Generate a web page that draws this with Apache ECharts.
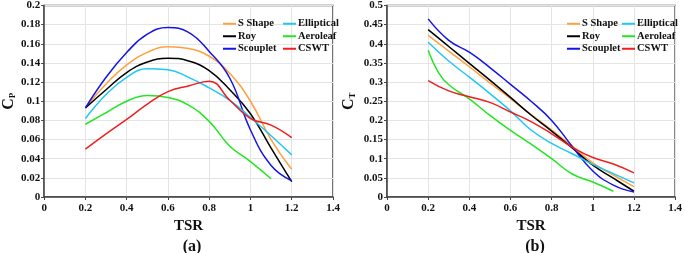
<!DOCTYPE html>
<html><head><meta charset="utf-8">
<script src="https://cdn.jsdelivr.net/npm/echarts@6/dist/echarts.min.js"></script>
<style>html,body{margin:0;padding:0;background:#fff}#c{width:685px;height:253px}</style>
</head><body><div id="c"></div>
<script>
// ---- data ----
const xTicks = [0, 0.2, 0.4, 0.6, 0.8, 1, 1.2, 1.4];
const tsrFull = [0.2, 0.3, 0.4, 0.5, 0.6, 0.7, 0.8, 0.9, 1.0, 1.1, 1.2];
const tsrAeroCp = [0.2, 0.3, 0.4, 0.5, 0.6, 0.7, 0.8, 0.9, 1.0, 1.1];
const tsrAeroCt = [0.2, 0.25, 0.3, 0.4, 0.5, 0.6, 0.7, 0.8, 0.9, 1.0, 1.1];

// Cp (a)
const cpSShape     = [0.093, 0.118, 0.138, 0.151, 0.157, 0.155, 0.147, 0.129, 0.100, 0.060, 0.029];
const cpRoy        = [0.093, 0.112, 0.130, 0.141, 0.145, 0.142, 0.132, 0.112, 0.087, 0.051, 0.016];
const cpScouplet   = [0.093, 0.125, 0.151, 0.170, 0.177, 0.172, 0.152, 0.124, 0.070, 0.033, 0.017];
const cpElliptical = [0.082, 0.107, 0.125, 0.134, 0.133, 0.125, 0.114, 0.101, 0.083, 0.064, 0.044];
const cpAeroleaf   = [0.076, 0.088, 0.100, 0.106, 0.104, 0.096, 0.079, 0.053, 0.037, 0.019];
const cpCSWT       = [0.050, 0.066, 0.081, 0.097, 0.110, 0.116, 0.121, 0.101, 0.082, 0.075, 0.062];

// Ct (b)
const ctSShape     = [0.422, 0.381, 0.340, 0.298, 0.257, 0.215, 0.175, 0.133, 0.089, 0.057, 0.027];
const ctRoy        = [0.437, 0.393, 0.349, 0.305, 0.260, 0.214, 0.172, 0.128, 0.083, 0.049, 0.015];
const ctScouplet   = [0.465, 0.409, 0.378, 0.338, 0.294, 0.250, 0.200, 0.132, 0.068, 0.031, 0.013];
const ctElliptical = [0.404, 0.355, 0.313, 0.270, 0.225, 0.175, 0.140, 0.113, 0.085, 0.061, 0.037];
const ctAeroleaf   = [0.383, 0.325, 0.293, 0.256, 0.213, 0.174, 0.138, 0.100, 0.060, 0.039, 0.015];
const ctCSWT       = [0.304, 0.277, 0.262, 0.247, 0.222, 0.197, 0.165, 0.130, 0.103, 0.086, 0.063];

const names = ['S Shape', 'Roy', 'Scouplet', 'Elliptical', 'Aeroleaf', 'CSWT'];
const colors = {'S Shape':'#FFA040','Roy':'#000000','Scouplet':'#1414E6','Elliptical':'#1EC8F5','Aeroleaf':'#22E622','CSWT':'#F01E1E'};

function pairs(xs, ys){ return ys.map((y,i)=>[xs[i], y]); }

const cpSeries = {
  'S Shape': pairs(tsrFull, cpSShape), 'Roy': pairs(tsrFull, cpRoy), 'Scouplet': pairs(tsrFull, cpScouplet),
  'Elliptical': pairs(tsrFull, cpElliptical), 'Aeroleaf': pairs(tsrAeroCp, cpAeroleaf), 'CSWT': pairs(tsrFull, cpCSWT)
};
const ctSeries = {
  'S Shape': pairs(tsrFull, ctSShape), 'Roy': pairs(tsrFull, ctRoy), 'Scouplet': pairs(tsrFull, ctScouplet),
  'Elliptical': pairs(tsrFull, ctElliptical), 'Aeroleaf': pairs(tsrAeroCt, ctAeroleaf), 'CSWT': pairs(tsrFull, ctCSWT)
};

const FONT = '"Liberation Serif","Times New Roman",serif';
const chart = echarts.init(document.getElementById('c'));

function xAx(gi){
  return {gridIndex: gi, type:'value', min:0, max:1.4, interval:0.2,
    name:'TSR', nameLocation:'middle', nameGap:19,
    nameTextStyle:{fontFamily:FONT, fontWeight:'bold', fontSize:15, color:'#111'},
    axisLine:{show:true, lineStyle:{color:'#444', width:1.5}},
    axisTick:{show:true, length:3, lineStyle:{color:'#444'}},
    axisLabel:{fontFamily:FONT, fontWeight:'bold', fontSize:11, color:'#111', margin:6},
    splitLine:{show:true, lineStyle:{color:'#e4e4e4', width:1}}};
}
function yAx(gi, max, iv, sub, gap){
  return {gridIndex: gi, type:'value', min:0, max:max, interval:iv,
    name:'{c|C}{s|' + sub + '}', nameLocation:'middle', nameGap:gap, nameRotate:90,
    nameTextStyle:{rich:{
      c:{fontFamily:FONT, fontWeight:'bold', fontSize:16, color:'#111'},
      s:{fontFamily:FONT, fontWeight:'bold', fontSize:9, color:'#111', verticalAlign:'bottom', padding:[6,0,0,0]}}},
    axisLine:{show:true, lineStyle:{color:'#444', width:1.5}},
    axisTick:{show:true, length:3, lineStyle:{color:'#444'}},
    axisLabel:{fontFamily:FONT, fontWeight:'bold', fontSize:11, color:'#111', margin:4},
    splitLine:{show:true, lineStyle:{color:'#e4e4e4', width:1}}};
}
function legend(left, data){
  return {left:left, top:13, orient:'vertical', icon:'rect', itemWidth:13, itemHeight:2, itemGap:1,
    data:data, textStyle:{fontFamily:FONT, fontWeight:'bold', fontSize:10.5, color:'#111', lineHeight:11.5, padding:[0,0,0,-3]}};
}

const series = [];
[cpSeries, ctSeries].forEach((set, gi)=>{
  names.forEach(n=>{
    series.push({name:n, type:'line', xAxisIndex:gi, yAxisIndex:gi, data:set[n],
      smooth:0.45, symbol:'none', showSymbol:false, color:colors[n],
      itemStyle:{color:colors[n]},
      lineStyle:{width:1.5, color:colors[n]}});
  });
});

chart.setOption({
  animation:false,
  grid:[
    {left:43, top:5, width:290, height:192, show:true, borderColor:'#444', borderWidth:1.5, backgroundColor:'transparent'},
    {left:387, top:5, width:290, height:192, show:true, borderColor:'#444', borderWidth:1.5, backgroundColor:'transparent'}
  ],
  xAxis:[xAx(0), xAx(1)],
  yAxis:[yAx(0, 0.2, 0.02, 'P', 25), yAx(1, 0.5, 0.05, 'T', 30)],
  legend:[
    legend(218, ['S Shape','Roy','Scouplet']),
    legend(278, ['Elliptical','Aeroleaf','CSWT']),
    legend(562, ['S Shape','Roy','Scouplet']),
    legend(617, ['Elliptical','Aeroleaf','CSWT'])
  ],
  title:[
    {text:'(a)', left:187, top:234, textAlign:'center', textStyle:{fontFamily:FONT, fontWeight:'bold', fontSize:16, color:'#111'}},
    {text:'(b)', left:530, top:234, textAlign:'center', textStyle:{fontFamily:FONT, fontWeight:'bold', fontSize:16, color:'#111'}}
  ],
  series:series
});
</script></body></html>
